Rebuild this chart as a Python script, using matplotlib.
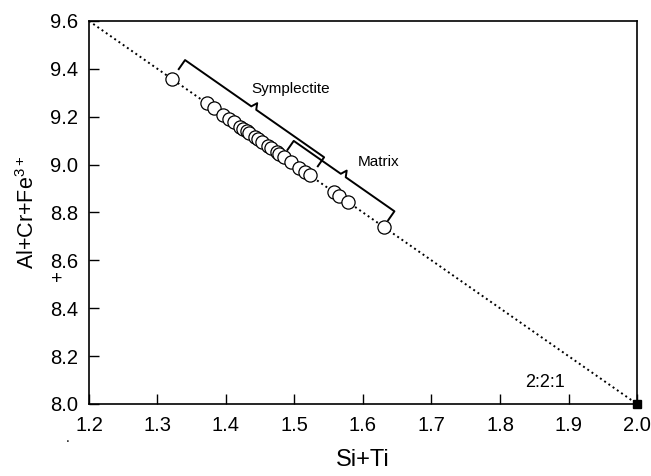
import numpy as np
import matplotlib.pyplot as plt
from matplotlib.transforms import IdentityTransform

plt.rcParams['font.family'] = ['Liberation Sans', 'DejaVu Sans']
plt.rcParams['mathtext.default'] = 'regular'

# ideal 2:2:1 line end points
line_x = [1.2, 2.0]
line_y = [9.6, 8.0]

# analyses (Si+Ti, Al+Cr+Fe3+)
si_ti = [1.321, 1.372, 1.382, 1.396, 1.405, 1.411, 1.421, 1.425, 1.430, 1.434,
         1.442, 1.447, 1.453, 1.461, 1.465, 1.474, 1.478, 1.484, 1.495, 1.507,
         1.515, 1.522, 1.557, 1.565, 1.578, 1.630]
al_cr_fe = [9.358, 9.257, 9.237, 9.207, 9.191, 9.178, 9.157, 9.148, 9.140, 9.132,
            9.115, 9.108, 9.095, 9.078, 9.069, 9.053, 9.044, 9.032, 9.011, 8.986,
            8.969, 8.957, 8.886, 8.869, 8.844, 8.740]

# bracket ranges (x extent of each group)
symp_range = (1.321, 1.524)
matrix_range = (1.483, 1.630)

fig = plt.figure(figsize=(6.51, 4.76), dpi=100)
ax = fig.add_axes([0.1367, 0.1513, 0.8418, 0.8046])

ax.plot(line_x, line_y, ls=':', color='black', lw=1.4, zorder=1)
ax.plot(si_ti, al_cr_fe, 'o', ms=9.5, mfc='white', mec='black', mew=0.9, zorder=3)
ax.plot([2.0], [8.0], 's', ms=6, color='black', clip_on=False, zorder=4)

ax.set_xlim(1.2, 2.0)
ax.set_ylim(8.0, 9.6)
ax.set_xticks(np.arange(1.2, 2.01, 0.1))
ax.set_yticks(np.arange(8.0, 9.61, 0.2))
ax.xaxis.set_major_formatter(plt.FormatStrFormatter('%.1f'))
ax.yaxis.set_major_formatter(plt.FormatStrFormatter('%.1f'))
ax.tick_params(direction='in', length=7, width=1, labelsize=14.5, top=False, right=False)
ax.tick_params(axis='x', pad=9)
ax.tick_params(axis='y', pad=8)
for s in ax.spines.values():
    s.set_linewidth(1.2)

ax.set_xlabel('Si+Ti', fontsize=17, labelpad=10)
ax.set_ylabel(r'Al+Cr+Fe$^{3+}$', fontsize=15.5, labelpad=8)
fig.text(57 / 651, 1 - 280 / 476, '+', fontsize=14, ha='center', va='center')
fig.text(68 / 651, 1 - 438 / 476, '.', fontsize=10, ha='center', va='center')

ax.text(1.836, 8.088, '2:2:1', fontsize=13, ha='left', va='center')

fig.canvas.draw()


def bracket(x0, x1, offset, tick=11, notch=6):
    def on_line(x):
        return ax.transData.transform((x, 12.0 - 2.0 * x))
    p0 = on_line(x0)
    p1 = on_line(x1)
    d = (p1 - p0) / np.hypot(*(p1 - p0))
    n = np.array([-d[1], d[0]])
    if n[1] < 0:
        n = -n
    L = np.hypot(*(p1 - p0))
    c = L / 2
    pts = [
        p0 + n * (offset - tick),
        p0 + n * offset,
        p0 + d * (c - 4) + n * offset,
        p0 + d * (c - 1) + n * (offset + notch),
        p0 + d * (c + 2) + n * offset,
        p1 + n * offset,
        p1 + n * (offset - tick),
    ]
    pts = np.array(pts)
    ax.plot(pts[:, 0], pts[:, 1], color='black', lw=1.4, transform=IdentityTransform(),
            clip_on=False, zorder=2)


bracket(symp_range[0], symp_range[1], 23)
bracket(matrix_range[0], matrix_range[1], 19)

ax.text(1.495, 9.316, 'Symplectite', fontsize=11, ha='center', va='center')
ax.text(1.622, 9.011, 'Matrix', fontsize=11, ha='center', va='center')

fig.savefig('out.png', dpi=100)
